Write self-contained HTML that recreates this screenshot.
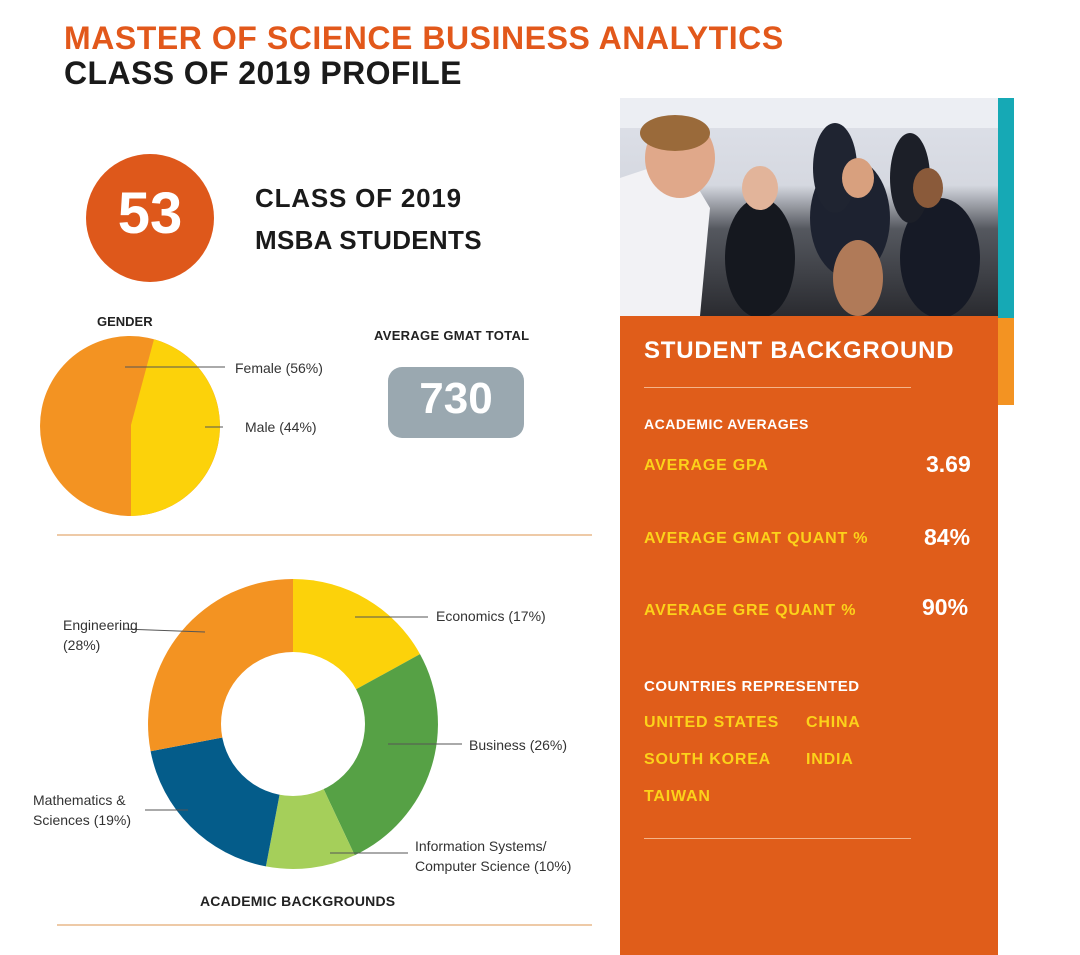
<!DOCTYPE html>
<html><head><meta charset="utf-8"><style>
body{margin:0;width:1080px;height:955px;background:#fff;overflow:hidden;position:relative;font-family:"Liberation Sans",Arial,sans-serif}
.a{position:absolute;white-space:nowrap}
.h{font-weight:bold}
.y{color:#fcd21a;font-weight:bold;font-size:16px;letter-spacing:0.8px}
.w{color:#fff;font-weight:bold}
</style></head><body>
<div class="a h" style="left:64px;top:20px;font-size:32px;color:#e2581b;letter-spacing:0.55px">MASTER OF SCIENCE BUSINESS ANALYTICS</div>
<div class="a h" style="left:64px;top:55px;font-size:32px;color:#1a1a1a;letter-spacing:0.4px">CLASS OF 2019 PROFILE</div>
<div class="a" style="left:86px;top:154px;width:128px;height:128px;border-radius:50%;background:#de581b"></div>
<div class="a h" style="left:86px;top:180px;width:128px;text-align:center;font-size:58px;color:#fff">53</div>
<div class="a h" style="left:255px;top:183px;font-size:26px;color:#1a1a1a;letter-spacing:0.8px">CLASS OF 2019</div>
<div class="a h" style="left:255px;top:225px;font-size:26px;color:#1a1a1a;letter-spacing:0.3px">MSBA STUDENTS</div>
<div class="a h" style="left:97px;top:314px;font-size:13px;color:#222">GENDER</div>
<div class="a h" style="left:374px;top:328px;font-size:13px;color:#222;letter-spacing:0.3px">AVERAGE GMAT TOTAL</div>
<div class="a" style="left:388px;top:367px;width:136px;height:71px;border-radius:14px;background:#9aa8b0"></div>
<div class="a h" style="left:388px;top:374px;width:136px;text-align:center;font-size:44px;color:#fff">730</div>
<svg class="a" style="left:0;top:0" width="620" height="955">
<circle cx="130" cy="426" r="90" fill="#f39322"/>
<path d="M154 339.3 A90 90 0 0 1 131 516 L131 425 Z" fill="#fcd20a"/>
<line x1="125" y1="367" x2="225" y2="367" stroke="#555" stroke-width="1"/>
<line x1="205" y1="427" x2="223" y2="427" stroke="#555" stroke-width="1"/>
<line x1="57" y1="535" x2="592" y2="535" stroke="#e8b98a" stroke-width="1.5"/>
<path d="M293 724 L293 579 A145 145 0 0 1 420 654.1 Z" fill="#fcd20a"/>
<path d="M293 724 L420 654.1 A145 145 0 0 1 354.7 855.2 Z" fill="#56a145"/>
<path d="M293 724 L354.7 855.2 A145 145 0 0 1 265.9 866.4 Z" fill="#a5cf5a"/>
<path d="M293 724 L265.9 866.4 A145 145 0 0 1 150.6 751.2 Z" fill="#045c8a"/>
<path d="M293 724 L150.6 751.2 A145 145 0 0 1 293 579 Z" fill="#f39322"/>
<circle cx="293" cy="724" r="72" fill="#fff"/>
<line x1="123" y1="629" x2="205" y2="632" stroke="#555"/>
<line x1="355" y1="617" x2="428" y2="617" stroke="#555"/>
<line x1="388" y1="744" x2="462" y2="744" stroke="#555"/>
<line x1="330" y1="853" x2="408" y2="853" stroke="#555"/>
<line x1="145" y1="810" x2="188" y2="810" stroke="#555"/>
<line x1="57" y1="925" x2="592" y2="925" stroke="#e8b98a" stroke-width="1.5"/>
</svg>
<div class="a" style="left:235px;top:360px;font-size:14px;color:#333">Female (56%)</div>
<div class="a" style="left:245px;top:419px;font-size:14px;color:#333">Male (44%)</div>
<div class="a" style="left:63px;top:615px;font-size:14px;color:#333;line-height:20px">Engineering<br>(28%)</div>
<div class="a" style="left:436px;top:608px;font-size:14px;color:#333">Economics (17%)</div>
<div class="a" style="left:469px;top:737px;font-size:14px;color:#333">Business (26%)</div>
<div class="a" style="left:415px;top:836px;font-size:14px;color:#333;line-height:20px">Information Systems/<br>Computer Science (10%)</div>
<div class="a" style="left:33px;top:790px;font-size:14px;color:#333;line-height:20px">Mathematics &amp;<br>Sciences (19%)</div>
<div class="a h" style="left:200px;top:893px;font-size:14px;color:#222;letter-spacing:0.2px">ACADEMIC BACKGROUNDS</div>
<div class="a" style="left:620px;top:98px;width:378px;height:218px;background:linear-gradient(180deg,#dfe2ea 0%,#d5d8e0 40%,#55585f 60%,#2a2b30 100%)"></div>
<svg class="a" style="left:620px;top:98px" width="378" height="218">
<rect x="0" y="0" width="378" height="30" fill="#eceef3"/>
<ellipse cx="230" cy="120" rx="40" ry="60" fill="#1d2230"/>
<ellipse cx="140" cy="160" rx="35" ry="60" fill="#15181f"/>
<ellipse cx="320" cy="160" rx="40" ry="60" fill="#161a26"/>
<ellipse cx="215" cy="70" rx="22" ry="45" fill="#1f2431"/>
<ellipse cx="290" cy="80" rx="20" ry="45" fill="#1c1f28"/>
<ellipse cx="238" cy="180" rx="25" ry="38" fill="#b07a58"/>
<path d="M0 80 L60 60 L90 110 L80 218 L0 218Z" fill="#f2f2f5"/>
<ellipse cx="60" cy="60" rx="35" ry="40" fill="#e0a88a"/>
<ellipse cx="55" cy="35" rx="35" ry="18" fill="#9a6a3a"/>
<ellipse cx="140" cy="90" rx="18" ry="22" fill="#e2b49a"/>
<ellipse cx="238" cy="80" rx="16" ry="20" fill="#d8a07e"/>
<ellipse cx="308" cy="90" rx="15" ry="20" fill="#8a5a3a"/>
</svg>
<div class="a" style="left:998px;top:98px;width:16px;height:220px;background:#16a9b5"></div>
<div class="a" style="left:998px;top:318px;width:16px;height:87px;background:#f39322"></div>
<div class="a" style="left:620px;top:316px;width:378px;height:639px;background:#e05d1a"></div>
<div class="a w" style="left:644px;top:337px;font-size:24px;letter-spacing:0.8px">STUDENT BACKGROUND</div>
<div class="a" style="left:644px;top:387px;width:267px;height:1px;background:#f4b48a"></div>
<div class="a w" style="left:644px;top:416px;font-size:14px;letter-spacing:0.5px">ACADEMIC AVERAGES</div>
<div class="a y" style="left:644px;top:457px">AVERAGE GPA</div>
<div class="a w" style="left:926px;top:451px;font-size:23px">3.69</div>
<div class="a y" style="left:644px;top:530px">AVERAGE GMAT QUANT %</div>
<div class="a w" style="left:924px;top:524px;font-size:23px">84%</div>
<div class="a y" style="left:644px;top:602px">AVERAGE GRE QUANT %</div>
<div class="a w" style="left:922px;top:594px;font-size:23px">90%</div>
<div class="a w" style="left:644px;top:678px;font-size:15px;letter-spacing:0.5px">COUNTRIES REPRESENTED</div>
<div class="a y" style="left:644px;top:714px">UNITED STATES</div>
<div class="a y" style="left:806px;top:714px">CHINA</div>
<div class="a y" style="left:644px;top:751px">SOUTH KOREA</div>
<div class="a y" style="left:806px;top:751px">INDIA</div>
<div class="a y" style="left:644px;top:788px">TAIWAN</div>
<div class="a" style="left:644px;top:838px;width:267px;height:1px;background:#f4b48a"></div>
</body></html>
